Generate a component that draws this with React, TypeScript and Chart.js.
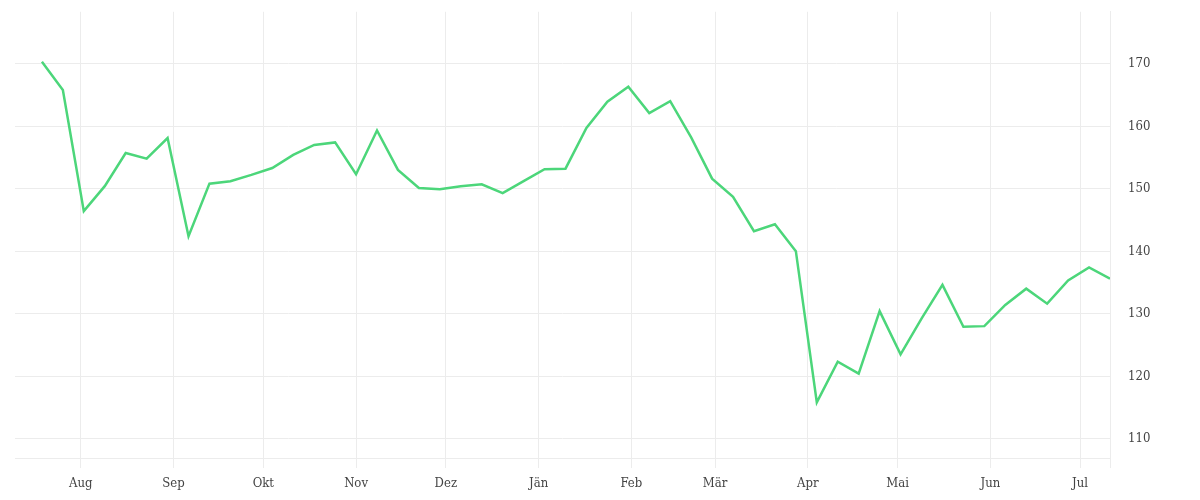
import { useEffect, useRef } from "react";
import { Chart, registerables } from "chart.js";

Chart.register(...registerables);

// weekly closing values, first week starts 2024-07-19
const firstWeek = "2024-07-19";
const values = [
  170.3, 165.8, 146.4, 150.4, 155.7, 154.8, 158.1, 142.4, 150.8, 151.2,
  152.2, 153.3, 155.4, 157.0, 157.4, 152.3, 159.3, 153.0, 150.1, 149.9,
  150.4, 150.7, 149.3, 151.2, 153.1, 153.2, 159.7, 163.9, 166.3, 162.1,
  164.0, 158.2, 151.6, 148.7, 143.2, 144.3, 140.0, 115.8, 122.3, 120.4,
  130.4, 123.5, 129.2, 134.6, 127.9, 128.0, 131.4, 134.0, 131.6, 135.3,
  137.4, 135.6,
];

const monthStarts = [
  "2024-08-01", "2024-09-01", "2024-10-01", "2024-11-01", "2024-12-01", "2025-01-01",
  "2025-02-01", "2025-03-01", "2025-04-01", "2025-05-01", "2025-06-01", "2025-07-01",
];
const monthLabels = ["Aug", "Sep", "Okt", "Nov", "Dez", "Jän", "Feb", "Mär", "Apr", "Mai", "Jun", "Jul"];

const axisStart = "2024-07-10";
const yTicks = [110, 120, 130, 140, 150, 160, 170];
const yMin = 106.9;
const yMax = 178.3;

const DAY = 86400000;
const origin = Date.parse(monthStarts[0]);
const toDay = (d: string) => (Date.parse(d) - origin) / DAY;

const GRID = "#ececec";
const FONT = { family: "'DejaVu Serif Condensed', 'DejaVu Serif', serif", size: 13 };

export default function App() {
  const chartRef = useRef<HTMLCanvasElement | null>(null);
  const chartInstance = useRef<Chart | null>(null);

  useEffect(() => {
    if (!chartRef.current) return;
    if (chartInstance.current) chartInstance.current.destroy();
    const ctx = chartRef.current.getContext("2d");
    if (!ctx) return;

    const start = toDay(firstWeek);
    const points = values.map((v, i) => ({ x: start + i * 7, y: v }));
    const tickDays = monthStarts.map(toDay);
    const xMax = points[points.length - 1].x;

    chartInstance.current = new Chart(ctx, {
      type: "line",
      data: {
        datasets: [
          {
            data: points,
            borderColor: "rgb(76, 214, 122)",
            borderWidth: 2.5,
            pointRadius: 0,
            tension: 0,
            fill: false,
          },
        ],
      },
      options: {
        responsive: true,
        maintainAspectRatio: false,
        animation: false,
        layout: { autoPadding: false, padding: { left: 7, top: 4, right: 0, bottom: 0 } },
        plugins: {
          legend: { display: false },
          tooltip: { enabled: false },
        },
        scales: {
          x: {
            type: "linear",
            min: toDay(axisStart),
            max: xMax,
            afterBuildTicks: (scale: any) => {
              scale.ticks = [...tickDays, xMax].map((value) => ({ value }));
            },
            afterFit: (scale: any) => {
              scale.height = 34;
            },
            grid: { color: GRID, tickColor: GRID, tickLength: 10 },
            border: { color: GRID },
            ticks: {
              autoSkip: false,
              maxRotation: 0,
              padding: 8,
              color: "#444",
              font: FONT,
              callback: (value: any) => {
                const idx = tickDays.indexOf(Number(value));
                return idx >= 0 ? monthLabels[idx] : "";
              },
            },
          },
          y: {
            position: "right",
            min: yMin,
            max: yMax,
            afterBuildTicks: (scale: any) => {
              scale.ticks = yTicks.map((value) => ({ value }));
            },
            afterFit: (scale: any) => {
              scale.width = 82;
            },
            grid: { color: GRID, drawTicks: false },
            border: { color: GRID },
            ticks: { padding: 18, color: "#444", font: FONT },
          },
        },
      },
    });

    return () => {
      if (chartInstance.current) {
        chartInstance.current.destroy();
        chartInstance.current = null;
      }
    };
  }, []);

  // the layout leaves ~22px empty above the plot, so the canvas is lifted by that much
  return (
    <div style={{ position: "relative", top: -22, height: 506, width: "100%" }}>
      <canvas ref={chartRef} />
    </div>
  );
}
